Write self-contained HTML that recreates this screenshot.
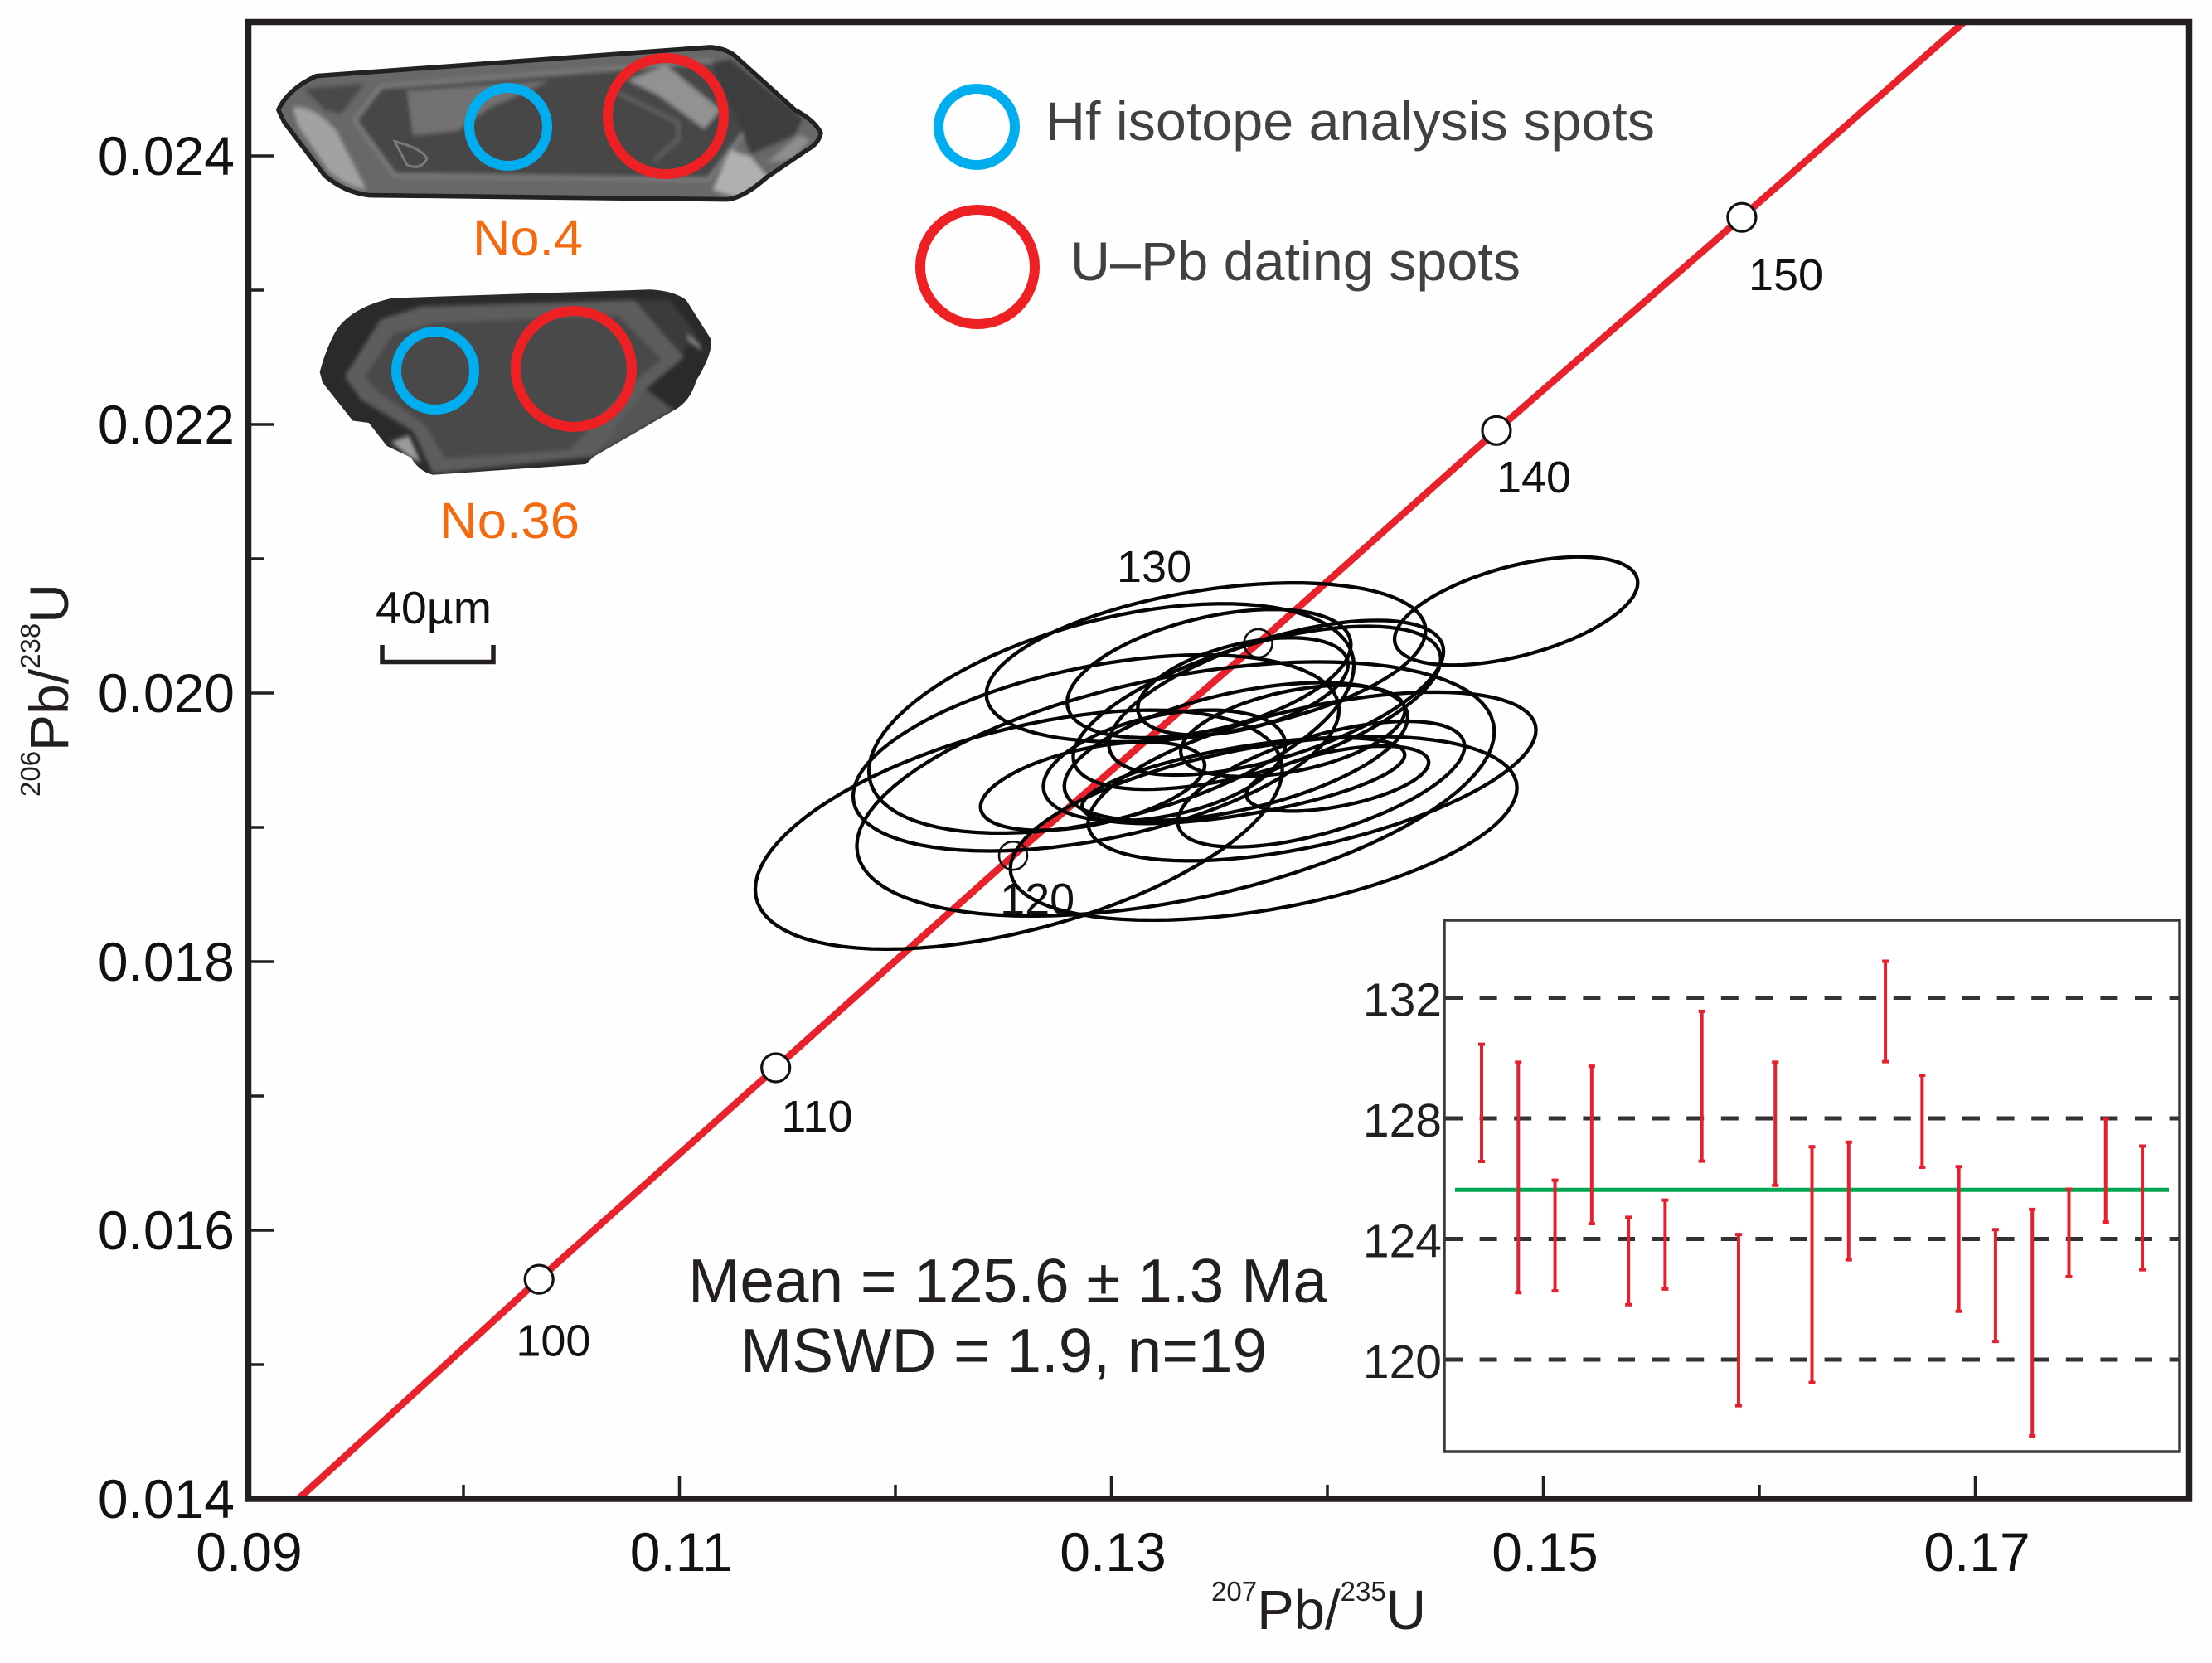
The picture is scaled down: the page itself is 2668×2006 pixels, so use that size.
<!DOCTYPE html>
<html lang="en">
<head>
<meta charset="utf-8">
<title>U-Pb concordia diagram</title>
<style>
html,body{margin:0;padding:0;background:#fefefe;width:2668px;height:2006px;overflow:hidden}
svg{display:block;font-family:"Liberation Sans",Arial,sans-serif}
</style>
</head>
<body>
<svg id="chart" xmlns="http://www.w3.org/2000/svg" width="2668" height="2006" viewBox="0 0 2668 2006">
  <defs>
    <clipPath id="plot-clip"><rect x="299" y="26" width="2343" height="1782"/></clipPath>
    <filter id="soft" x="-5%" y="-5%" width="110%" height="110%"><feGaussianBlur stdDeviation="5"/></filter>
    <clipPath id="grain1-clip"><path d="M115 240 Q140 190 210 160 L1190 92 Q1235 95 1260 120 L1400 240 Q1450 265 1465 295 Q1460 320 1430 335 L1330 400 Q1270 450 1230 452 L340 442 Q280 435 230 395 L130 270 Z"/></clipPath>
    <clipPath id="grain2-clip"><path d="M218 860 Q235 800 260 760 Q300 705 400 685 L1040 665 Q1100 668 1130 690 L1190 780 Q1200 810 1155 880 Q1140 930 1100 950 L900 1060 L880 1078 L500 1103 Q465 1095 445 1062 L385 1035 L340 980 L300 975 L225 885 Z"/></clipPath>
  </defs>
  <rect width="2668" height="2006" fill="#fefefe"/>

  <g id="concordia-layer" clip-path="url(#plot-clip)"></g>
  <g id="marker-layer"></g>
  <g id="ellipse-layer" clip-path="url(#plot-clip)"></g>
  <g id="axis-layer"></g>

  <text x="1461" y="1965" font-size="67" fill="#231f20"><tspan font-size="33" dy="-34">207</tspan><tspan dy="34">Pb/</tspan><tspan font-size="33" dy="-34">235</tspan><tspan dy="34">U</tspan></text>
  <text transform="translate(82,961) rotate(-90)" font-size="66" fill="#231f20"><tspan font-size="33" dy="-34">206</tspan><tspan dy="34">Pb/</tspan><tspan font-size="33" dy="-34">238</tspan><tspan dy="34">U</tspan></text>

  <!-- zircon grain No.4 -->
  <g transform="translate(280,10) scale(0.4847,0.5102)">
    <path d="M115 240 Q140 190 210 160 L1190 92 Q1235 95 1260 120 L1400 240 Q1450 265 1465 295 Q1460 320 1430 335 L1330 400 Q1270 450 1230 452 L340 442 Q280 435 230 395 L130 270 Z" fill="#686868"/>
    <g clip-path="url(#grain1-clip)"><g filter="url(#soft)">
      <path d="M150 235 Q200 225 260 290 L335 430 Q280 420 240 385 L165 280 Z" fill="#a2a2a2"/>
      <path d="M180 190 L330 178 L270 250 L230 240 Z" fill="#484848"/>
      <path d="M305 265 L370 185 L1190 125 L1285 280 L1185 405 L405 395 Z" fill="#474747" stroke="#7d7d7d" stroke-width="10"/>
      <path d="M435 195 L790 172 L640 235 L560 290 L450 300 Z" fill="#727272"/>
      <path d="M985 170 L1080 135 L1215 240 L1175 285 L1060 205 Z" fill="#929292"/>
      <path d="M1240 120 L1420 260 L1400 300 L1290 345 L1265 280 L1190 130 Z" fill="#3c3c3c"/>
      <path d="M1195 430 L1240 335 L1290 350 L1335 400 L1265 450 Z" fill="#b0b0b0"/>
      <path d="M1330 365 L1410 300 L1440 310 L1390 360 Z" fill="#8e8e8e"/>
      <path d="M960 200 L1110 270 L1110 310 L1050 360" fill="none" stroke="#656565" stroke-width="8"/>
    </g></g>
    <path d="M405 315 Q470 330 485 355 Q470 385 435 370 Z" fill="none" stroke="#7a7a7a" stroke-width="6"/>
    <path d="M115 240 Q140 190 210 160 L1190 92 Q1235 95 1260 120 L1400 240 Q1450 265 1465 295 Q1460 320 1430 335 L1330 400 Q1270 450 1230 452 L340 442 Q280 435 230 395 L130 270 Z" fill="none" stroke="#222" stroke-width="11" stroke-linejoin="round"/>
  </g>
  <!-- zircon grain No.36 -->
  <g transform="translate(280,10) scale(0.4847,0.5102)">
    <path d="M218 860 Q235 800 260 760 Q300 705 400 685 L1040 665 Q1100 668 1130 690 L1190 780 Q1200 810 1155 880 Q1140 930 1100 950 L900 1060 L880 1078 L500 1103 Q465 1095 445 1062 L385 1035 L340 980 L300 975 L225 885 Z" fill="#2a2a2a"/>
    <g clip-path="url(#grain2-clip)"><g filter="url(#soft)">
      <path d="M280 870 L370 735 L470 705 L1000 690 L1125 825 L1030 900 L900 1060 L500 1100 L450 1000 L320 925 Z" fill="#5d5d5d"/>
      <path d="M330 870 L400 770 L500 745 L960 725 L1070 830 L990 890 L840 1045 L530 1065 L480 985 L360 905 Z" fill="#4a4a4a"/>
      <path d="M1000 690 L1120 815 L1155 770 L1090 690 Z" fill="#3a3a3a"/>
      <path d="M395 1025 L440 1010 L470 1075 L440 1060 Z" fill="#9b9b9b"/>
      <path d="M900 1060 L1030 900 L1100 950 Z" fill="#555"/>
      <path d="M1130 770 L1160 790 L1170 810 L1140 790 Z" fill="#888"/>
    </g></g>
  </g>
  <circle cx="613" cy="153" r="47" fill="none" stroke="#00aeef" stroke-width="12"/>
  <circle cx="803" cy="140" r="70" fill="none" stroke="#ed2124" stroke-width="12"/>
  <circle cx="525" cy="447" r="47" fill="none" stroke="#00aeef" stroke-width="12"/>
  <circle cx="692" cy="445" r="70" fill="none" stroke="#ed2124" stroke-width="12"/>
  <text x="570" y="308" font-size="61" fill="#f36a10" textLength="133" lengthAdjust="spacingAndGlyphs">No.4</text>
  <text x="530" y="649" font-size="61" fill="#f36a10" textLength="169" lengthAdjust="spacingAndGlyphs">No.36</text>

  <text x="453" y="752" font-size="55" fill="#111" textLength="140" lengthAdjust="spacingAndGlyphs">40µm</text>
  <path d="M461 778 V798.5 H595 V778" fill="none" stroke="#231f20" stroke-width="5.5"/>

  <g>
    <circle cx="1178" cy="153" r="46" fill="none" stroke="#00aeef" stroke-width="12"/>
    <text x="1261" y="169" font-size="66" fill="#414042" textLength="735" lengthAdjust="spacingAndGlyphs">Hf isotope analysis spots</text>
    <circle cx="1179" cy="322" r="69" fill="none" stroke="#ed2124" stroke-width="12"/>
    <text x="1291" y="338" font-size="66" fill="#414042" textLength="543" lengthAdjust="spacingAndGlyphs">U–Pb dating spots</text>
  </g>

  <text x="830" y="1571" font-size="75" fill="#231f20" textLength="771" lengthAdjust="spacingAndGlyphs">Mean = 125.6 ± 1.3 Ma</text>
  <text x="893" y="1655" font-size="75" fill="#231f20" textLength="635" lengthAdjust="spacingAndGlyphs">MSWD = 1.9, n=19</text>

  <g id="inset-layer"></g>
</svg>
<script>
// --- main chart data ---
const xMajorTicks = [0.09, 0.11, 0.13, 0.15, 0.17];
const xMinorTicks = [0.10, 0.12, 0.14, 0.16];
const xTickLabels = ["0.09", "0.11", "0.13", "0.15", "0.17"];
const yMajorTicks = [0.014, 0.016, 0.018, 0.020, 0.022, 0.024];
const yMinorTicks = [0.015, 0.017, 0.019, 0.021, 0.023];
const yTickLabels = ["0.014", "0.016", "0.018", "0.020", "0.022", "0.024"];

const concordiaLineX = [0.09236, 0.1035, 0.11446, 0.12545, 0.1368, 0.14783, 0.15919, 0.1695];
const concordiaLineY = [0.0140, 0.015635, 0.01721, 0.018789, 0.020371, 0.021955, 0.023542, 0.0250];

const ageValues = [100, 110, 120, 130, 140, 150];
const ageX = [0.1035, 0.11446, 0.12545, 0.1368, 0.14783, 0.15919];
const ageY = [0.015635, 0.01721, 0.018789, 0.020371, 0.021955, 0.023542];
const ageFilled = [1, 1, 0, 0, 1, 1];
const ageLabelX = [0.10416, 0.11637, 0.12657, 0.13198, 0.14956, 0.16123];
const ageLabelY = [0.015065, 0.016735, 0.018352, 0.020827, 0.021494, 0.0230];

// error ellipses: centre, half-extents, correlation
const ellipseCx = [0.14874, 0.13438, 0.13000, 0.12929, 0.13452, 0.13763, 0.13609, 0.12571, 0.13297, 0.13929, 0.13705, 0.13971, 0.12913, 0.13245, 0.13577, 0.13674, 0.14047, 0.13611, 0.13840];
const ellipseCy = [0.020611, 0.020228, 0.019811, 0.019554, 0.020145, 0.019965, 0.020050, 0.018983, 0.019286, 0.019379, 0.018993, 0.019322, 0.019307, 0.019461, 0.019564, 0.019890, 0.019363, 0.019348, 0.019718];
const ellipseSx = [0.00563, 0.01017, 0.01123, 0.01125, 0.00657, 0.00775, 0.00487, 0.0122, 0.01476, 0.01037, 0.01173, 0.00664, 0.00519, 0.0056, 0.00795, 0.00851, 0.00422, 0.00747, 0.00519];
const ellipseSy = [0.000403, 0.000592, 0.000854, 0.000730, 0.000478, 0.000576, 0.000362, 0.00089, 0.000946, 0.000628, 0.000684, 0.000468, 0.000329, 0.000412, 0.000514, 0.000607, 0.000242, 0.000319, 0.00034];
const ellipseRho = [0.52, 0.40, 0.46, 0.44, 0.45, 0.60, 0.45, 0.50, 0.45, 0.55, 0.44, 0.60, 0.47, 0.38, 0.50, 0.60, 0.50, 0.60, 0.45];

// --- inset data ---
const insetTicks = [120, 124, 128, 132];
const insetTickLabels = ["120", "124", "128", "132"];
const insetMean = [125.63];
const ageHigh = [130.46, 129.86, 125.95, 129.73, 124.72, 125.29, 131.55, 124.15, 129.86, 127.06, 127.21, 133.21, 129.43, 126.40, 124.31, 124.98, 125.65, 127.99, 127.08];
const ageLow = [126.57, 122.22, 122.28, 124.51, 121.82, 122.34, 126.58, 118.47, 125.78, 119.24, 123.31, 129.88, 126.38, 121.60, 120.60, 117.47, 122.75, 124.56, 122.98];

const NS = 'http://www.w3.org/2000/svg';
function make(tag, parent, attrs, text) {
  const el = document.createElementNS(NS, tag);
  for (const k in attrs) el.setAttribute(k, attrs[k]);
  if (text !== undefined) el.textContent = text;
  parent.appendChild(el);
  return el;
}
function xScale(v) { return 298.5 + (v - 0.09) * 26050; }
function yScale(v) { return 1808 - (v - 0.014) * 162000; }
function insetX(i) { return 1787 + i * 44.28; }
function insetY(v) { return 1640 - (v - 120) * 36.37; }

const concordiaLayer = document.getElementById('concordia-layer');
const ellipseLayer = document.getElementById('ellipse-layer');
const markerLayer = document.getElementById('marker-layer');
const axisLayer = document.getElementById('axis-layer');
const insetLayer = document.getElementById('inset-layer');

// concordia curve
const concordiaPoints = concordiaLineX.map((v, i) => xScale(v).toFixed(1) + ',' + yScale(concordiaLineY[i]).toFixed(1)).join(' ');
const concordiaEl = make('polyline', concordiaLayer, {points: concordiaPoints, fill: 'none', stroke: '#e8222c', 'stroke-width': 8.5});



// age markers and labels
ageValues.forEach((age, i) => {
  const c = make('circle', markerLayer, {cx: xScale(ageX[i]), cy: yScale(ageY[i]), r: 17, fill: ageFilled[i] ? '#fff' : 'none', stroke: '#111', 'stroke-width': ageFilled[i] ? 3.2 : 2.6});
  
  
  const t = make('text', markerLayer, {x: xScale(ageLabelX[i]), y: yScale(ageLabelY[i]), 'font-size': 54, 'text-anchor': 'middle', fill: '#111'}, String(age));
  
  
});

// ellipses
ellipseCx.forEach((cx, i) => {
  const phi = Math.acos(ellipseRho[i]);
  let d = '';
  for (let a = 0; a < 360; a += 4) {
    const t = a * Math.PI / 180;
    const px = xScale(cx + ellipseSx[i] * Math.cos(t));
    const py = yScale(ellipseCy[i] + ellipseSy[i] * Math.cos(t - phi));
    d += (a === 0 ? 'M' : 'L') + px.toFixed(1) + ' ' + py.toFixed(1);
  }
  const el = make('path', ellipseLayer, {d: d + 'Z', fill: 'none', stroke: '#050505', 'stroke-width': 4.3});
  
  
});

// frame
const frame = make('rect', axisLayer, {x: 299.5, y: 26.5, width: 2341, height: 1781.5, fill: 'none', stroke: '#231f20', 'stroke-width': 7.5});



// ticks
xMajorTicks.slice(1).forEach((v) => {
  const el = make('line', axisLayer, {x1: xScale(v), x2: xScale(v), y1: 1780, y2: 1805, stroke: '#231f20', 'stroke-width': 3.5});
  
  
});
xMinorTicks.forEach((v) => {
  const el = make('line', axisLayer, {x1: xScale(v), x2: xScale(v), y1: 1791, y2: 1805, stroke: '#231f20', 'stroke-width': 3.5});
  
  
});
yMajorTicks.slice(1).forEach((v) => {
  const el = make('line', axisLayer, {x1: 302, x2: 331, y1: yScale(v), y2: yScale(v), stroke: '#231f20', 'stroke-width': 3.5});
  
  
});
yMinorTicks.forEach((v) => {
  const el = make('line', axisLayer, {x1: 302, x2: 318, y1: yScale(v), y2: yScale(v), stroke: '#231f20', 'stroke-width': 3.5});
  
  
});
xTickLabels.forEach((label, i) => {
  const el = make('text', axisLayer, {x: xScale(xMajorTicks[i]) + 2, y: 1895, 'font-size': 66, 'text-anchor': 'middle', fill: '#111'}, label);
  
  
});
yTickLabels.forEach((label, i) => {
  const el = make('text', axisLayer, {x: 283, y: yScale(yMajorTicks[i]) + 23, 'font-size': 66, 'text-anchor': 'end', fill: '#111'}, label);
  
  
});

// inset
const insetFrame = make('rect', insetLayer, {x: 1742, y: 1110, width: 887, height: 641, fill: '#fff', stroke: '#3a3a3a', 'stroke-width': 3.5});


insetTicks.forEach((v, i) => {
  const g = make('line', insetLayer, {x1: 1743, x2: 2628, y1: insetY(v), y2: insetY(v), stroke: '#333', 'stroke-width': 5, 'stroke-dasharray': '21 20.6', 'stroke-dashoffset': '0'});
  
  
  const t = make('text', insetLayer, {x: 1739, y: insetY(v) + 22, 'font-size': 57, 'text-anchor': 'end', fill: '#231f20'}, insetTickLabels[i]);
  
  
});
const meanLine = make('line', insetLayer, {x1: 1755, x2: 2616, y1: insetY(insetMean[0]), y2: insetY(insetMean[0]), stroke: '#00a651', 'stroke-width': 5});


ageHigh.forEach((hi, i) => {
  const x = insetX(i);
  const yHi = insetY(hi);
  const yLo = insetY(ageLow[i]);
  const bar = make('path', insetLayer, {d: 'M' + x + ' ' + yHi + 'V' + yLo + 'M' + (x - 4) + ' ' + yHi + 'h8M' + (x - 4) + ' ' + yLo + 'h8', fill: 'none', stroke: '#e4202f', 'stroke-width': 4});
  
  
});
</script>
</body>
</html>
